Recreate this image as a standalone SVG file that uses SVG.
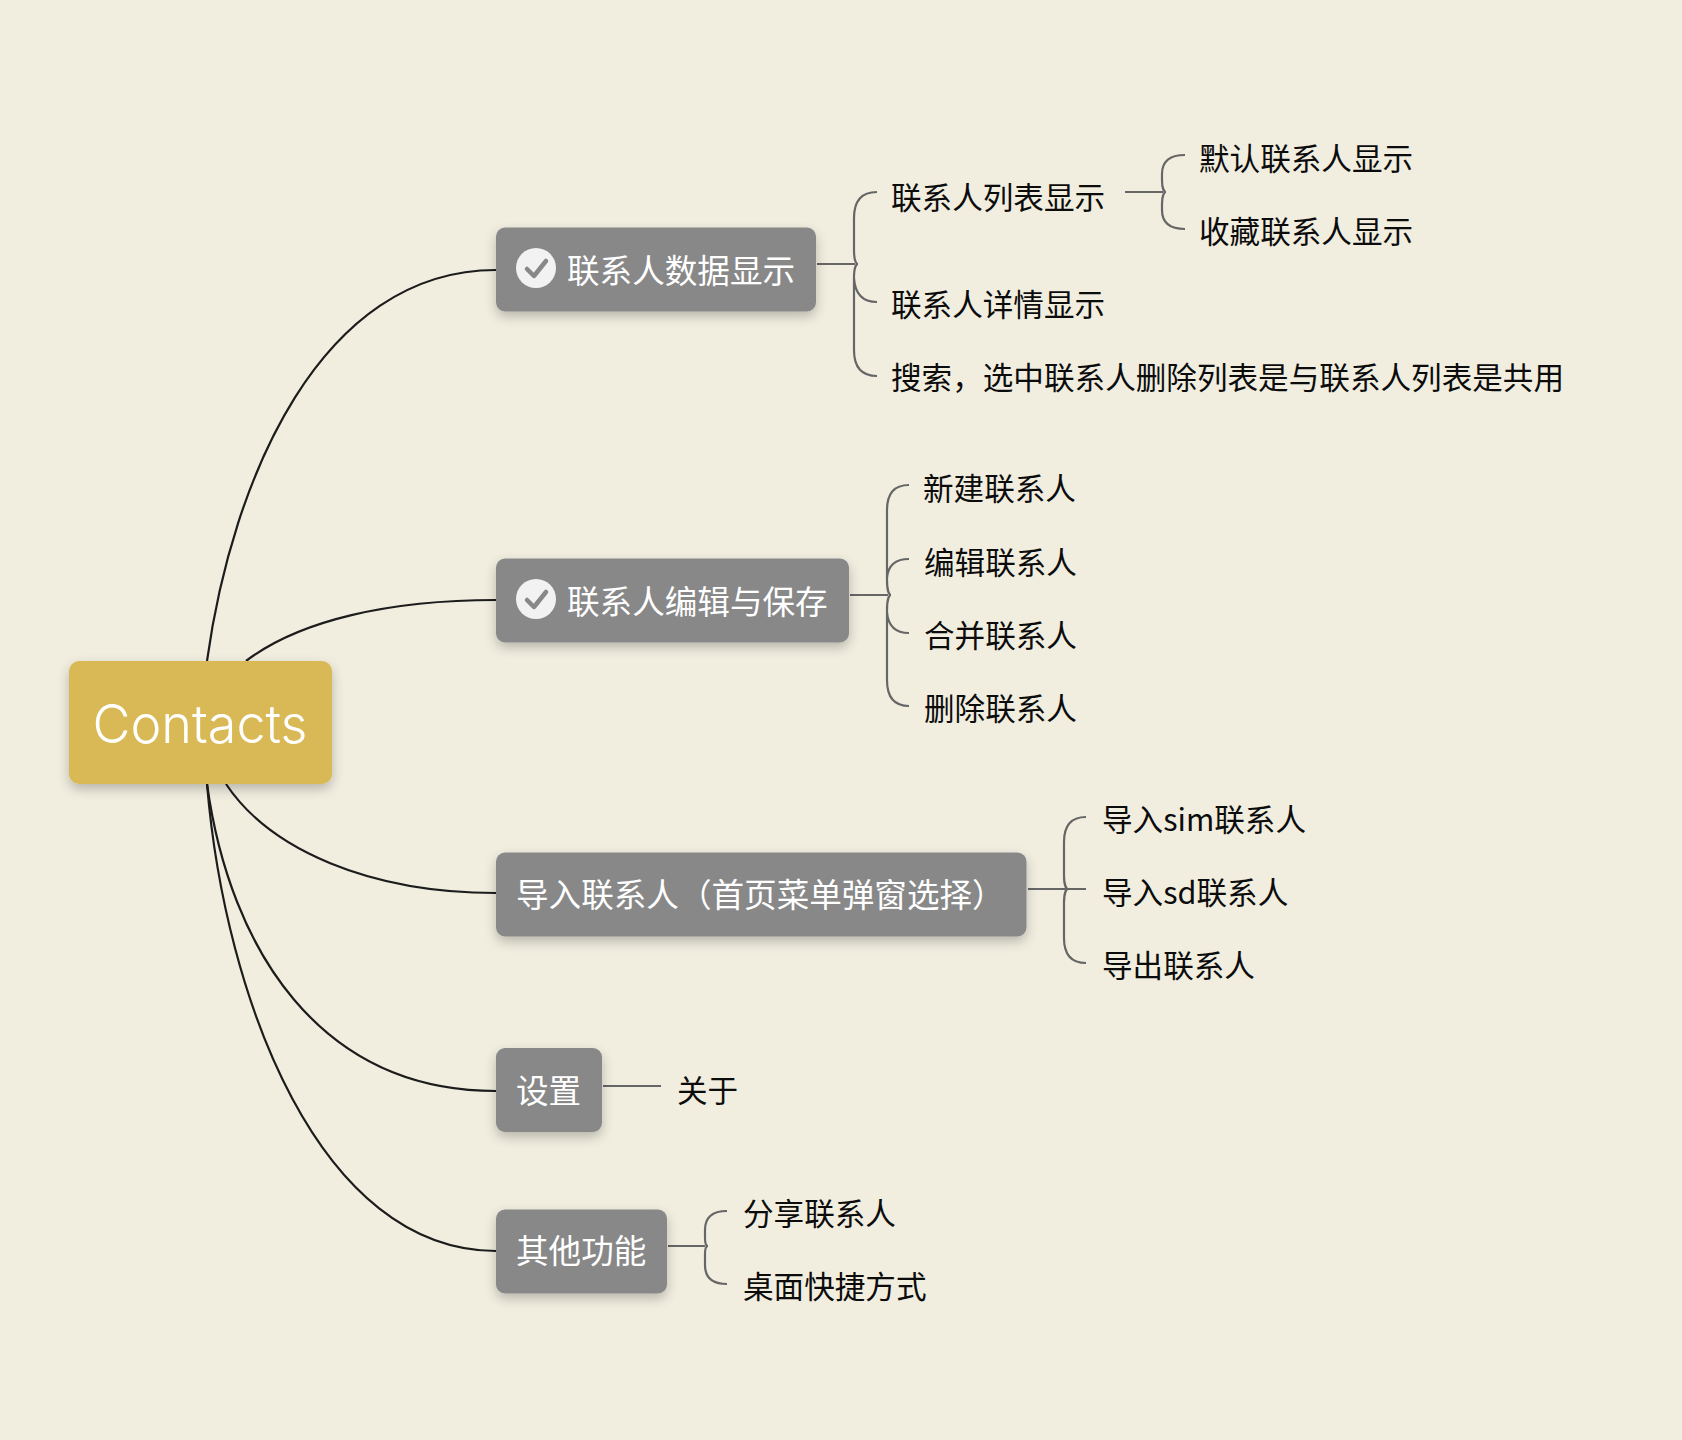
<svg xmlns="http://www.w3.org/2000/svg" width="1682" height="1440" viewBox="0 0 1682 1440">
<style>
.bg{fill:#f1eee0}
.node{fill:#888888;filter:url(#sh)}
.root{fill:#d9b955;filter:url(#sh)}
.t{font-family:"Noto Sans CJK SC","Liberation Sans",sans-serif;fill:#ffffff;font-size:32.6px}
.l{font-family:"Noto Sans CJK SC","Liberation Sans",sans-serif;fill:#0c0c0c;font-size:30.6px}
.main{fill:none;stroke:#1c1c1c;stroke-width:2.2}
.br{fill:none;stroke:#666666;stroke-width:2.2}
.chk{fill:none;stroke:#888888;stroke-width:4.5;stroke-linecap:round;stroke-linejoin:round}
</style>
<defs>
<filter id="sh" x="-20%" y="-30%" width="140%" height="170%"><feDropShadow dx="0" dy="5" stdDeviation="6" flood-color="#000000" flood-opacity="0.24"/></filter>
</defs>
<rect class="bg" width="1682" height="1440"/>
<g id="connectors">
<path class="main" d="M207 661C232 480 320 270 496 270"/>
<path class="main" d="M246 661C300 620 390 600 496 600"/>
<path class="main" d="M226 784C270 850 370 893 496 893"/>
<path class="main" d="M207 784C230 950 320 1091 496 1091"/>
<path class="main" d="M207 784C225 1000 320 1251 496 1251"/>
<path class="br" d="M817 264H855M877 192C862 192 854 200 854 218V250C854 260 856 264 858 264C856 264 854 268 854 278V350C854 368 862 376 877 376M854 278C855 294 862 302 877 302"/>
<path class="br" d="M1125 192H1163M1185 155C1170 155 1162 161 1162 174V180C1162 188 1164 192 1166 192C1164 192 1162 196 1162 204V210C1162 223 1170 229 1185 229"/>
<path class="br" d="M850 595H888M909 485C895 485 887 493 887 510V580C887 590 889 595 891 595C889 595 887 600 887 610V680C887 698 895 706 909 706M887 578C888 566 895 559 909 559M887 612C888 625 895 633 909 633"/>
<path class="br" d="M1028 889H1086M1086 817C1072 817 1064 825 1064 842V875C1064 884 1066 889 1068 889C1066 889 1064 894 1064 903V938C1064 955 1072 963 1086 963"/>
<path class="br" d="M603 1086H661"/>
<path class="br" d="M668 1246H705M727 1211C713 1211 705 1217 705 1230V1238C705 1243 706 1246 708 1246C706 1246 705 1249 705 1254V1265C705 1278 713 1284 727 1284"/>
</g>
<g id="root"><rect class="root" x="69" y="661" width="263" height="123" rx="10"/><text x="200" y="743" text-anchor="middle" font-family="Inter,'Liberation Sans',sans-serif" font-weight="350" font-size="53" textLength="215" lengthAdjust="spacingAndGlyphs" fill="#fff">Contacts</text></g>
<g id="n1"><rect class="node" x="496" y="227.5" width="320" height="84" rx="9"/><circle cx="536" cy="268" r="20" fill="#f2f2f2"/><path class="chk" d="M527 269L534 276L546 261"/><text class="t" x="567" y="283">联系人数据显示</text></g>
<g id="n2"><rect class="node" x="496" y="558.5" width="353" height="84" rx="9"/><circle cx="536" cy="599" r="20" fill="#f2f2f2"/><path class="chk" d="M527 600L534 607L546 592"/><text class="t" x="567" y="614">联系人编辑与保存</text></g>
<g id="n3"><rect class="node" x="496" y="852.5" width="530.5" height="84" rx="9"/><text class="t" x="516" y="907">导入联系人（首页菜单弹窗选择）</text></g>
<g id="n4"><rect class="node" x="496" y="1048" width="106" height="84" rx="9"/><text class="t" x="516" y="1103">设置</text></g>
<g id="n5"><rect class="node" x="496" y="1209.5" width="171" height="84" rx="9"/><text class="t" x="516" y="1263">其他功能</text></g>
<g id="l1"><text class="l" x="891" y="208.5">联系人列表显示</text></g>
<g id="l2"><text class="l" x="1199" y="169.5">默认联系人显示</text></g>
<g id="l3"><text class="l" x="1199" y="242.5">收藏联系人显示</text></g>
<g id="l4"><text class="l" x="891" y="316">联系人详情显示</text></g>
<g id="l5"><text class="l" x="891" y="389">搜索，选中联系人删除列表是与联系人列表是共用</text></g>
<g id="l6"><text class="l" x="923" y="499.5">新建联系人</text></g>
<g id="l7"><text class="l" x="924" y="573.5">编辑联系人</text></g>
<g id="l8"><text class="l" x="924" y="646.5">合并联系人</text></g>
<g id="l9"><text class="l" x="924" y="719.5">删除联系人</text></g>
<g id="l10"><text class="l" x="1102" y="830.5">导入sim联系人</text></g>
<g id="l11"><text class="l" x="1102" y="903.5">导入sd联系人</text></g>
<g id="l12"><text class="l" x="1102" y="976.5">导出联系人</text></g>
<g id="l13"><text class="l" x="677" y="1102">关于</text></g>
<g id="l14"><text class="l" x="743" y="1225">分享联系人</text></g>
<g id="l15"><text class="l" x="743" y="1298">桌面快捷方式</text></g>
</svg>
